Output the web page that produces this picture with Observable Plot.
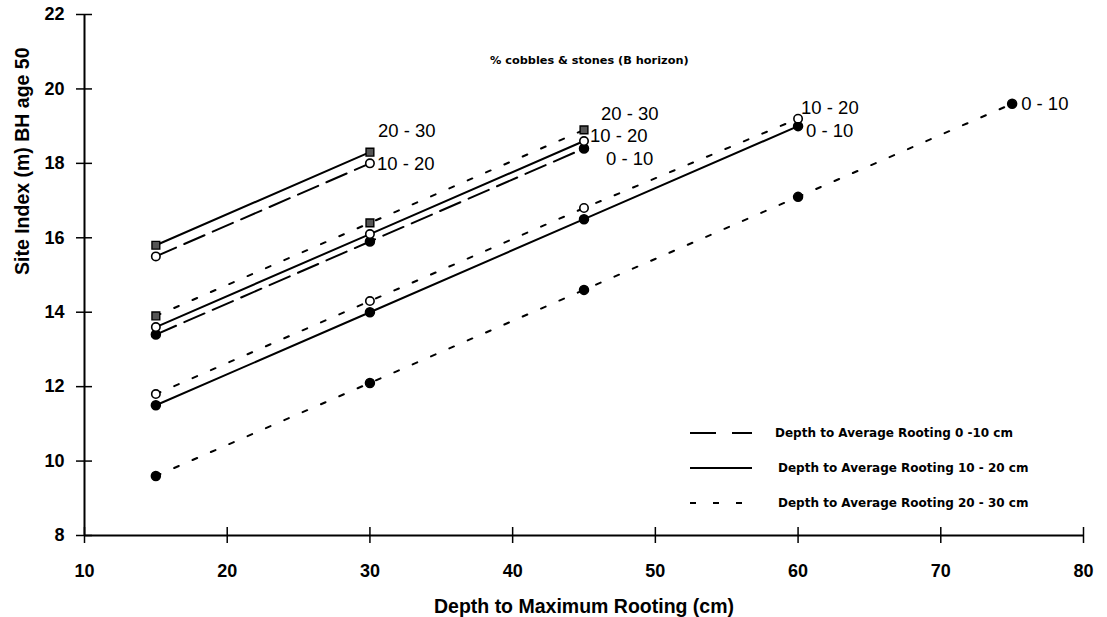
<!DOCTYPE html>
<html>
<head>
<meta charset="utf-8">
<script src="https://cdn.jsdelivr.net/npm/d3@7"></script>
<script src="https://cdn.jsdelivr.net/npm/@observablehq/plot@0.6"></script>
<style>
  html, body { margin: 0; padding: 0; background: #fff; }
  #wrap { position: relative; width: 1107px; height: 617px; }
  #title { position: absolute; left: 490px; top: 54px; font-family: "DejaVu Sans", sans-serif; font-size: 11.3px; font-weight: bold; white-space: nowrap; }
  #legend { position: absolute; left: 680px; top: 420px; }
</style>
</head>
<body>
<div id="wrap">
  <div id="chart"></div>
  <div id="title">% cobbles &amp; stones (B horizon)</div>
  <svg id="legend" width="420" height="100"></svg>
</div>
<script>
// ---- data ----
const depthMax = [15, 30, 45, 60, 75];            // Depth to maximum rooting (cm)
const xTicks = [10, 20, 30, 40, 50, 60, 70, 80];
const yTicks = [8, 10, 12, 14, 16, 18, 20, 22];

// Site index (m) values, one array per series (avg rooting depth / % cobbles)
const avg0_10_cob10_20  = [15.5, 18.0];
const avg0_10_cob0_10   = [13.4, 15.9, 18.4];
const avg10_20_cob20_30 = [15.8, 18.3];
const avg10_20_cob10_20 = [13.6, 16.1, 18.6];
const avg10_20_cob0_10  = [11.5, 14.0, 16.5, 19.0];
const avg20_30_cob20_30 = [13.9, 16.4, 18.9];
const avg20_30_cob10_20 = [11.8, 14.3, 16.8, 19.2];
const avg20_30_cob0_10  = [9.6, 12.1, 14.6, 17.1, 19.6];

const seriesRooting = ["0-10", "0-10", "10-20", "10-20", "10-20", "20-30", "20-30", "20-30"];
const seriesCobbles = ["10 - 20", "0 - 10", "20 - 30", "10 - 20", "0 - 10", "20 - 30", "10 - 20", "0 - 10"];
const seriesValues = [avg0_10_cob10_20, avg0_10_cob0_10, avg10_20_cob20_30, avg10_20_cob10_20,
                      avg10_20_cob0_10, avg20_30_cob20_30, avg20_30_cob10_20, avg20_30_cob0_10];

const legendLabels = ["Depth to Average Rooting 0 -10 cm", "Depth to Average Rooting 10 - 20 cm", "Depth to Average Rooting 20 - 30 cm"];

// ---- build rows ----
const rows = [];
seriesValues.forEach((vals, i) => vals.forEach((v, j) => rows.push({
  x: depthMax[j], y: v, series: i, rooting: seriesRooting[i], cobbles: seriesCobbles[i]
})));
const ends = seriesValues.map((vals, i) => ({
  x: depthMax[vals.length - 1], y: vals[vals.length - 1], text: seriesCobbles[i], series: i
}));

// ---- styles ----
const font = "'Liberation Sans', Arial, sans-serif";
const dashFor = {"0-10": "22,9", "10-20": null, "20-30": "5,15"};
const labelOffset = [[7, 1], [22, 11], [8, -21], [6, -5], [8, 5], [17, -16], [3, -11], [9, 0]];

const lineMarks = seriesValues.map((_, i) => Plot.line(rows.filter(d => d.series === i), {
  x: "x", y: "y", stroke: "black", strokeWidth: 2, strokeDasharray: dashFor[seriesRooting[i]]
}));
const dotMarks = [
  Plot.dot(rows.filter(d => d.cobbles === "0 - 10"), {x: "x", y: "y", r: 4.5, fill: "black", stroke: "black"}),
  Plot.dot(rows.filter(d => d.cobbles === "10 - 20"), {x: "x", y: "y", r: 4.2, fill: "white", stroke: "black", strokeWidth: 1.6}),
  Plot.dot(rows.filter(d => d.cobbles === "20 - 30"), {x: "x", y: "y", r: 4.4, symbol: "square", fill: "#555", stroke: "black", strokeWidth: 1.4})
];
const labelMarks = ends.map((d, i) => Plot.text([d], {
  x: "x", y: "y", text: "text", textAnchor: "start", dx: labelOffset[i][0], dy: labelOffset[i][1],
  fontSize: 18.5, fontWeight: "normal"
}));

const chart = Plot.plot({
  width: 1107, height: 617,
  marginLeft: 84, marginRight: 24, marginTop: 14, marginBottom: 82,
  x: {domain: [10, 80]},
  y: {domain: [8, 22]},
  style: {fontFamily: font, fontSize: "18px", fontWeight: "bold", background: "white", color: "black"},
  marks: [
    Plot.axisX(xTicks, {tickSize: 8, tickPadding: 21, strokeWidth: 1.5, fontSize: 18,
      label: null}),
    Plot.axisX(xTicks, {tickSize: 8, dy: -8, strokeWidth: 1.5, tickFormat: () => "", label: null}),
    Plot.axisY(yTicks, {tickSize: 8, tickPadding: 12, strokeWidth: 1.5, fontSize: 18,
      label: null}),
    Plot.axisY(yTicks, {tickSize: 8, dx: 8, strokeWidth: 1.5, tickFormat: () => "", label: null}),
    Plot.text(["Depth to Maximum Rooting (cm)"], {frameAnchor: "bottom", dy: 71, fontSize: 19.5, fontWeight: "bold", lineAnchor: "middle"}),
    Plot.text(["Site Index (m) BH age 50"], {frameAnchor: "left", dx: -62, rotate: -90, fontSize: 19.5, fontWeight: "bold", lineAnchor: "middle"}),
    Plot.ruleX([10], {strokeWidth: 2}),
    Plot.ruleY([8], {strokeWidth: 2}),
    ...lineMarks,
    ...dotMarks,
    ...labelMarks
  ]
});
document.getElementById("chart").appendChild(chart);

// ---- legend ----
const lg = d3.select("#legend");
const dashes = ["26,16", null, "6,17"];
legendLabels.forEach((t, i) => {
  const y = 13 + i * 35;
  lg.append("line").attr("x1", 10).attr("x2", 72).attr("y1", y).attr("y2", y)
    .attr("stroke", "black").attr("stroke-width", 2)
    .attr("stroke-dasharray", dashes[i]);
  lg.append("text").attr("x", i === 0 ? 95 : 98).attr("y", y + 4)
    .attr("font-family", "'DejaVu Sans', sans-serif").attr("font-weight", "bold")
    .attr("font-size", 12).text(t);
});
</script>
</body>
</html>
